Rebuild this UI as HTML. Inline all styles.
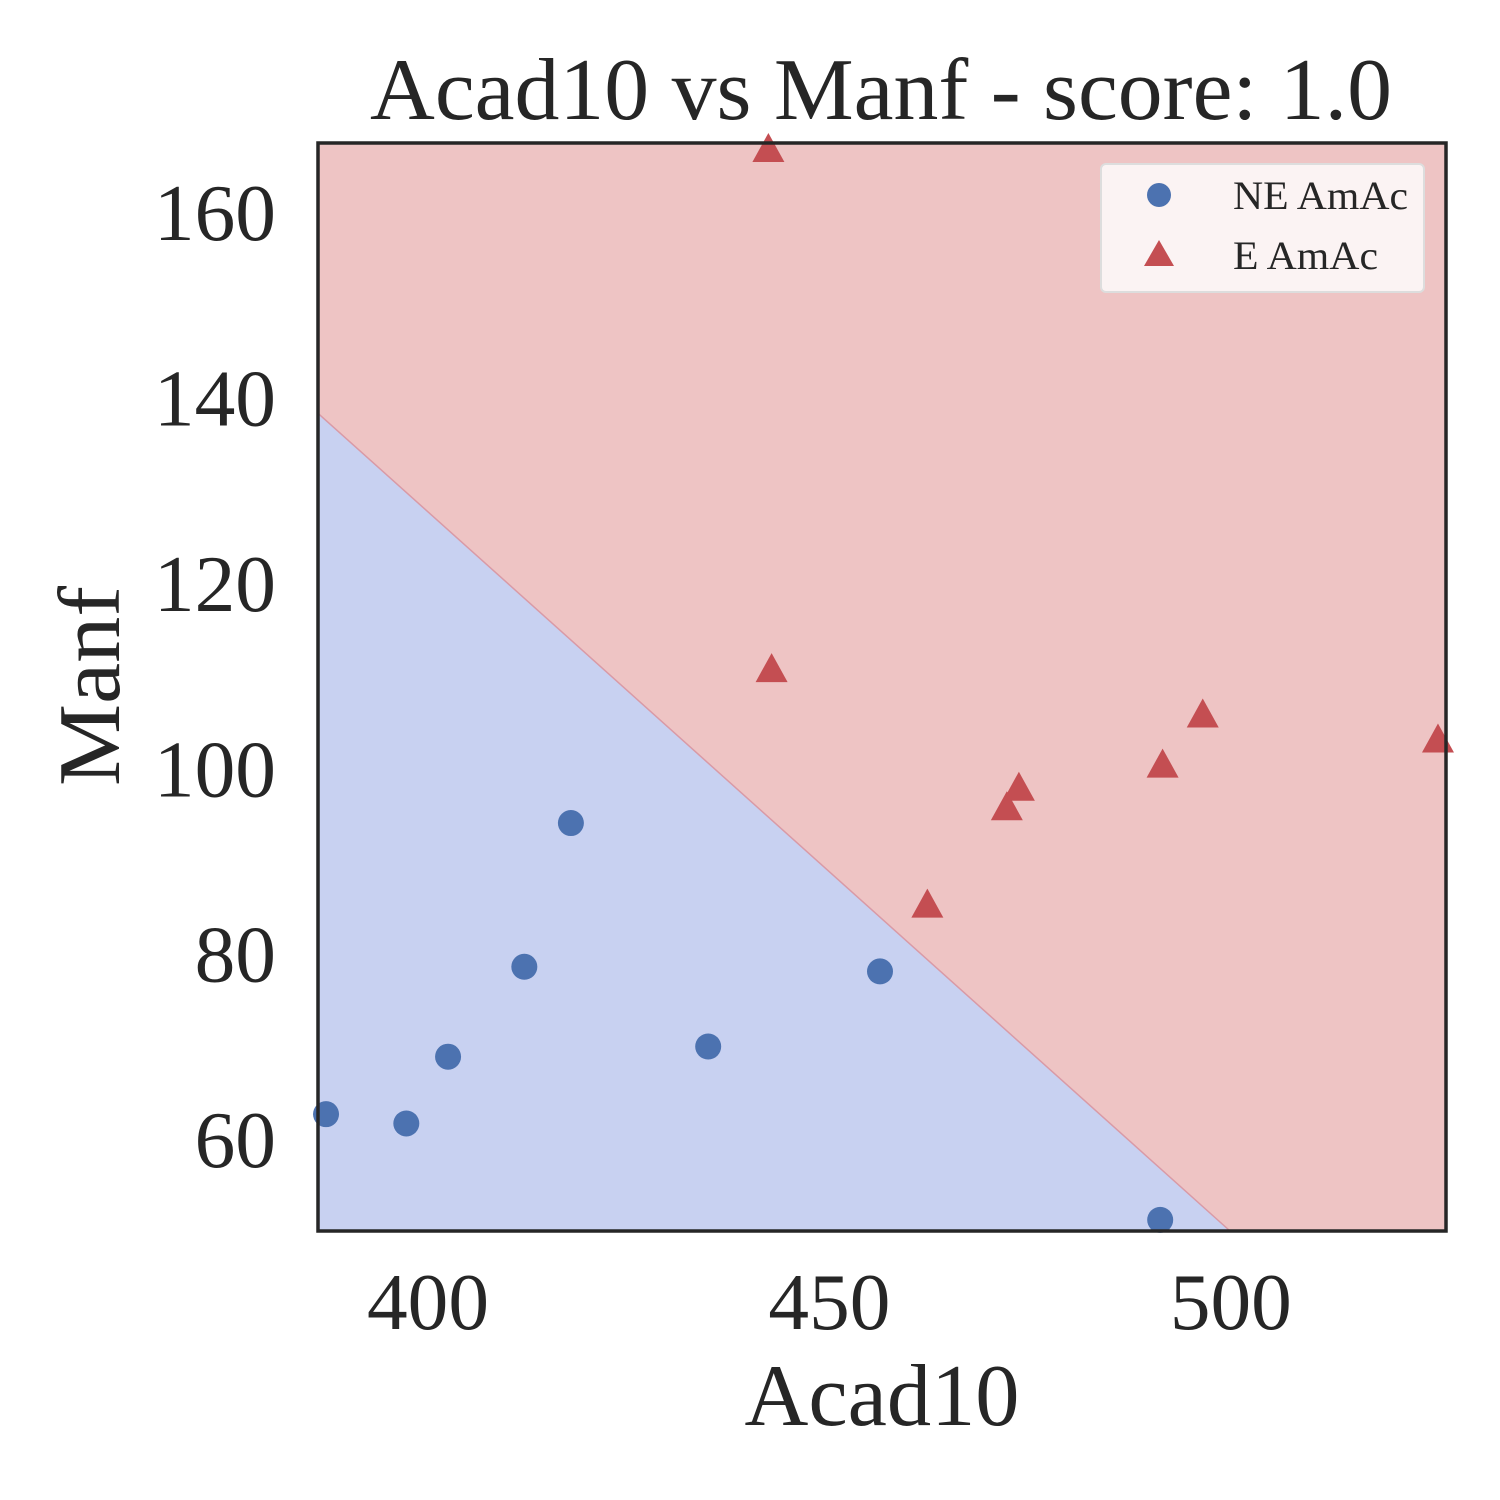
<!DOCTYPE html>
<html><head><meta charset="utf-8"><style>
html,body{margin:0;padding:0;background:#fff}
svg{display:block;font-family:"Liberation Serif",serif}
</style></head><body>
<svg id="chart" width="1500" height="1500" viewBox="0 0 1500 1500">
<text x="881" y="119" font-size="88" text-anchor="middle" fill="#262626" textLength="1022" lengthAdjust="spacingAndGlyphs">Acad10 vs Manf - score: 1.0</text>
<g id="plot"></g>
<text x="882" y="1425" font-size="88" text-anchor="middle" fill="#262626" textLength="275" lengthAdjust="spacingAndGlyphs">Acad10</text>
<text transform="translate(119,686) rotate(-90)" font-size="88" text-anchor="middle" fill="#262626" textLength="200" lengthAdjust="spacingAndGlyphs">Manf</text>
</svg>
<script>
const neX=[387.3,397.3,402.5,412.0,417.8,434.9,456.3,491.2];
const neY=[62.8,61.8,69.0,78.7,94.2,70.1,78.2,51.4];
const eX=[442.4,442.8,462.2,472.1,473.6,491.5,496.5,525.8];
const eY=[166.8,110.7,85.3,95.8,97.9,100.4,105.8,103.1];
const xTicks=[400,450,500];
const yTicks=[60,80,100,120,140,160];
const boundaryX=[386.3,499.9];
const boundaryY=[138.4,50.2];
const X0=386.3,X1=526.8,Y0=50.2,Y1=167.55;
const L=318,R=1446,T=143,B=1231;
const sx=v=>L+(v-X0)/(X1-X0)*(R-L);
const sy=v=>B-(v-Y0)/(Y1-Y0)*(B-T);
const NS='http://www.w3.org/2000/svg';
const g=document.getElementById('plot');
function mk(t,a){const e=document.createElementNS(NS,t);for(const k in a)e.setAttribute(k,a[k]);g.appendChild(e);return e;}
let e=mk('rect',{x:L,y:T,width:R-L,height:B-T,fill:'#eec4c4'});


const bx0=sx(boundaryX[0]),by0=sy(boundaryY[0]),bx1=sx(boundaryX[1]),by1=sy(boundaryY[1]);
e=mk('polygon',{points:`${L},${by0} ${bx1},${by1} ${L},${B}`,fill:'#c8d1f1'});


e=mk('line',{x1:bx0,y1:by0,x2:bx1,y2:by1,stroke:'#d99aa6','stroke-width':1.5});


neX.forEach((v,i)=>{const c=mk('circle',{cx:sx(v),cy:sy(neY[i]),r:13,fill:'#4c72b0'});

});
eX.forEach((v,i)=>{const x=sx(v),y=sy(eY[i]);const p=mk('polygon',{points:`${x},${y-17} ${x-16},${y+12} ${x+16},${y+12}`,fill:'#c44e52'});

});
e=mk('rect',{x:L,y:T,width:R-L,height:B-T,fill:'none',stroke:'#262626','stroke-width':3.5});


xTicks.forEach(v=>{const t=mk('text',{x:sx(v),y:1329,'font-size':80,'text-anchor':'middle',fill:'#262626',textLength:122,lengthAdjust:'spacingAndGlyphs'});t.textContent=v;

});
yTicks.forEach(v=>{const w=String(v).length*40.7;const t=mk('text',{x:276,y:sy(v)+27,'font-size':80,'text-anchor':'end',fill:'#262626',textLength:w,lengthAdjust:'spacingAndGlyphs'});t.textContent=v;

});
const lg=mk('rect',{x:1101,y:164,width:323,height:128,rx:5,fill:'#fbf3f3',stroke:'#dddddd','stroke-width':2});


e=mk('circle',{cx:1159,cy:195,r:12,fill:'#4c72b0'});


e=mk('polygon',{points:'1159,240 1144,266 1174,266',fill:'#c44e52'});


let t=mk('text',{x:1233,y:209,'font-size':40,fill:'#262626',textLength:175,lengthAdjust:'spacingAndGlyphs'});t.textContent='NE AmAc';


t=mk('text',{x:1233,y:269,'font-size':40,fill:'#262626',textLength:145,lengthAdjust:'spacingAndGlyphs'});t.textContent='E AmAc';


</script>
</body></html>
